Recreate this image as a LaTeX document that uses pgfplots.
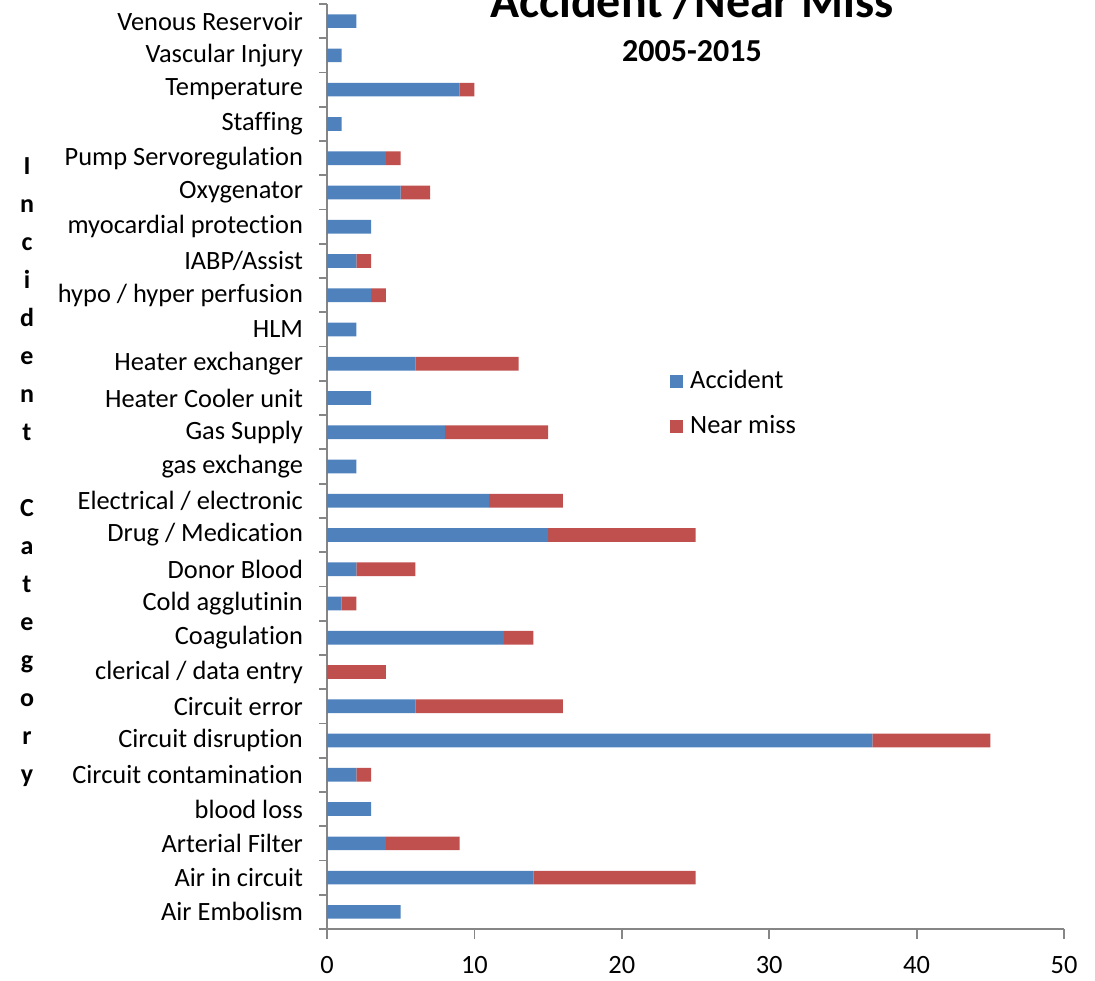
\documentclass[border=0pt]{standalone}
\usepackage{pgfplots}
\pgfplotsset{compat=1.18}
\usepackage{pgfplotstable}
\usepackage{fontspec}
\setmainfont{Carlito}[Ligatures={TeX,NoCommon}]
\definecolor{accblue}{HTML}{4F81BD}
\definecolor{nearred}{HTML}{C0504D}
\definecolor{axgray}{HTML}{868686}
\pgfplotstableread{
y acc near
0 5 0
1 14 11
2 4 5
3 3 0
4 2 1
5 37 8
6 6 10
7 0 4
8 12 2
9 1 1
10 2 4
11 15 10
12 11 5
13 2 0
14 8 7
15 3 0
16 6 7
17 2 0
18 3 1
19 2 1
20 3 0
21 5 2
22 4 1
23 1 0
24 9 1
25 1 0
26 2 0
}\data
\begin{document}
\begin{tikzpicture}
\begin{axis}[
  scale only axis,
  width=368.5pt, height=462.5pt,
  xbar stacked,
  bar width=0.4,
  xmin=0, xmax=50,
  ymin=-0.5, ymax=26.5,
  axis x line*=bottom, axis y line*=left,
  axis line style={draw=axgray, line width=0.9pt},
  xtick={0,10,...,50},
  ytick={0,...,26},
  yticklabels={Air Embolism, Air in circuit, Arterial Filter, blood loss, Circuit contamination, Circuit disruption, Circuit error, clerical / data entry, Coagulation, Cold agglutinin, Donor Blood, Drug / Medication, Electrical / electronic, gas exchange, Gas Supply, Heater Cooler unit, Heater exchanger, HLM, hypo / hyper perfusion, IABP/Assist, myocardial protection, Oxygenator, Pump Servoregulation, Staffing, Temperature, Vascular Injury, Venous Reservoir},
  minor ytick={-0.5,0.5,...,26.5},
  tick align=outside,
  major tick length=5pt,
  minor tick length=4pt,
  ytick style={draw=none},
  minor y tick style={draw=axgray, line width=0.9pt},
  xtick style={draw=axgray, line width=0.9pt},
  tick label style={font=\fontsize{13.2}{15}\selectfont},
  /pgf/number format/assume math mode=true,
  yticklabel style={xshift=-3.5pt},
  xticklabel style={yshift=-5pt},
  legend style={at={(axis cs:22.85,16.05)}, anchor=north west, draw=none, fill=none,
    font=\fontsize{13.2}{15}\selectfont, row sep=8pt,
    /tikz/every odd column/.style={column sep=1.5pt}},
  legend cell align=left,
  clip=false,
]
\addplot[fill=accblue, draw=none,
  legend image code/.code={\fill[accblue] (0pt,-3.25pt) rectangle (6.5pt,3.25pt);}]
  table[x=acc, y=y]{\data};
\addplot[fill=nearred, draw=none,
  legend image code/.code={\fill[nearred] (0pt,-3.25pt) rectangle (6.5pt,3.25pt);}]
  table[x=near, y=y]{\data};
\legend{Accident, Near miss}
\end{axis}
\node[anchor=base, font=\bfseries\fontsize{24}{28}\selectfont] at (182.5pt,455.5pt) {Accident /Near Miss};
\node[anchor=base, font=\bfseries\fontsize{16}{19}\selectfont] at (182.5pt,433.5pt) {2005-2015};
\node[align=center, font=\bfseries\fontsize{13}{19}\selectfont] at (-150pt,228.5pt)
  {I\\n\\c\\i\\d\\e\\n\\t\\[19pt]C\\a\\t\\e\\g\\o\\r\\y};
\pgfresetboundingbox
\useasboundingbox (-163.5pt,-25.5pt) rectangle (384pt,464.5pt);
\end{tikzpicture}
\end{document}
